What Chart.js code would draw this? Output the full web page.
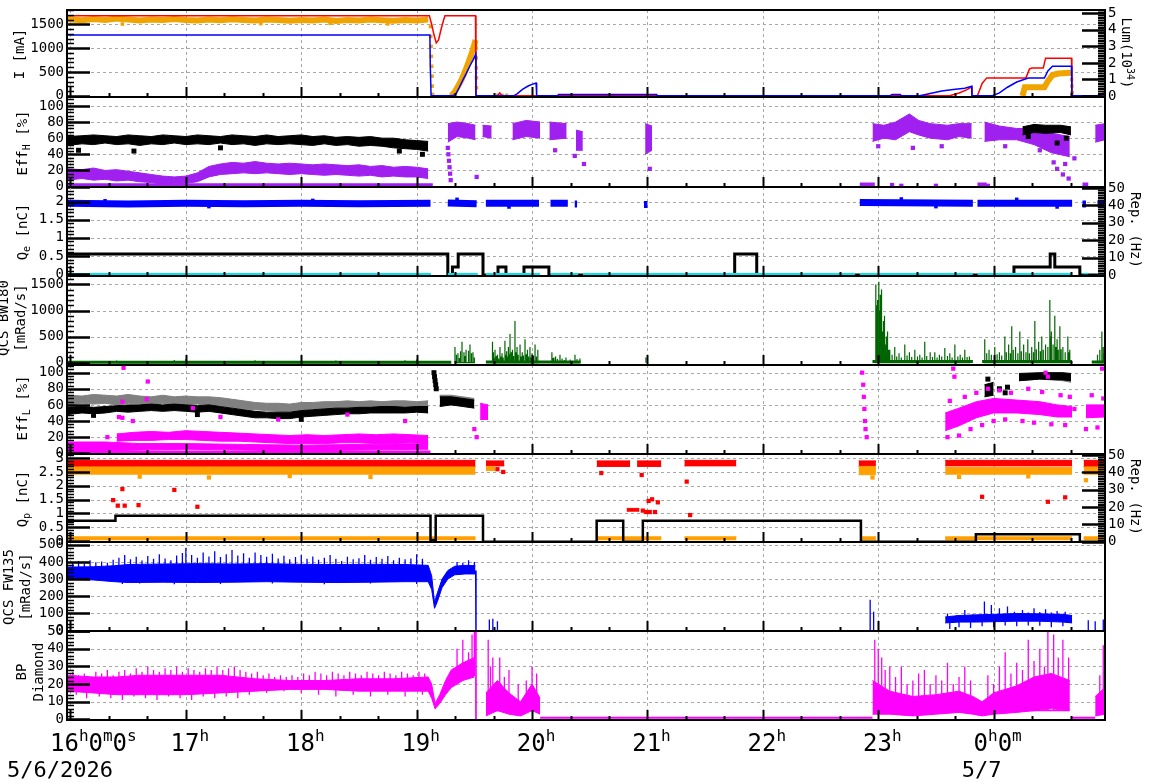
<!DOCTYPE html>
<html>
<head>
<meta charset="utf-8">
<script src="https://cdn.jsdelivr.net/npm/chart.js@4.4.0/dist/chart.umd.min.js"></script>
<style>
  body { margin: 0; background: #fff; }
  #wrap { position: relative; width: 1172px; height: 782px; overflow: hidden; background: #fff; }
  #wrap canvas { position: absolute; left: 0; }
  .ttl { position: absolute; font: 14px "DejaVu Sans Mono", monospace; color: #000; white-space: nowrap;
         text-align: center; line-height: 17px; transform-origin: center; }
  .ttl sub, .ttl sup { font-size: 10px; line-height: 0; }
</style>
</head>
<body>
<div id="wrap"></div>
<script>
// time axis in hours (24 = 0h of 5/7)
const xMin = 15.97, xMax = 24.965;
const hourTicks = [16, 17, 18, 19, 20, 21, 22, 23, 24];
const hourLabels = ['16^h0^m0^s', '17^h', '18^h', '19^h', '20^h', '21^h', '22^h', '23^h', '0^h0^m'];
const dateTicks = [16, 24];
const dateLabels = ['5/6/2026', '5/7'];

// ---- panel 1 : beam currents [mA] and luminosity [1e34]
const iLER = [[15.97,1680],[19.11,1680],[19.13,1500],[19.15,1280],[19.17,1110],[19.19,1170],[19.21,1380],[19.23,1560],[19.245,1680],[19.51,1680],[19.514,0],
  [19.7,0],[19.72,60],[19.74,0],[23.62,0],[23.7,60],[23.77,130],[23.81,190],[23.812,0],[23.86,0],[23.9,260],[23.94,376],[24.28,376],[24.31,560],[24.33,581],
  [24.43,581],[24.45,790],[24.675,790],[24.678,0],[24.9,0],[24.965,70]];
const iHER = [[15.97,1275],[19.115,1275],[19.118,640],[19.125,0],[19.31,0],[19.34,40],[19.37,180],[19.4,330],[19.43,470],[19.46,620],[19.49,760],[19.512,870],[19.514,0],
  [19.84,0],[19.87,40],[19.92,140],[19.97,210],[20.0,240],[20.035,270],[20.04,0],[20.22,0],[20.23,30],[21.08,30],[21.085,0],[23.1,0],[23.12,30],[23.19,30],[23.2,0],
  [23.36,0],[23.45,50],[23.55,100],[23.65,130],[23.75,160],[23.81,200],[23.812,0],[23.99,0],[24.05,60],[24.12,180],[24.2,290],[24.3,373],[24.44,373],[24.47,520],
  [24.51,622],[24.675,622],[24.678,0],[24.9,0],[24.965,40]];
const lumi = [[15.97,4.64],[16.1,4.58],[16.2,4.66],[16.3,4.6],[16.4,4.68],[16.5,4.62],[16.6,4.57],[16.7,4.63],[16.8,4.59],[16.9,4.66],[17.0,4.6],[17.1,4.56],
  [17.2,4.62],[17.3,4.58],[17.4,4.64],[17.5,4.6],[17.6,4.56],[17.7,4.63],[17.8,4.59],[17.9,4.55],[18.0,4.6],[18.1,4.57],[18.2,4.62],[18.3,4.54],[18.4,4.6],
  [18.5,4.57],[18.6,4.62],[18.7,4.58],[18.8,4.55],[18.9,4.6],[19.0,4.57],[19.1,4.62],[19.112,null],[19.3,0.0],[19.33,0.25],[19.36,0.6],[19.39,1.0],[19.42,1.5],
  [19.45,2.05],[19.48,2.65],[19.5,3.1],[19.51,3.39],[19.512,null],[24.25,0],[24.27,0.53],[24.44,0.53],[24.47,0.9],[24.51,1.27],[24.56,1.36],[24.67,1.41],[24.672,null]];
const lumDots = [[19.12,4.2],[19.122,3.6],[19.125,3.0],[19.127,2.4],[19.13,1.8],[19.133,1.2],[19.135,0.6],[19.138,0.1],[19.515,2.9],[19.516,2.3],[19.517,1.7],
  [19.518,1.1],[19.519,0.5],[24.676,1.0],[24.678,0.6],[24.68,0.2],[19.7,0.04],[19.74,0.04],[19.78,0.04],[16.45,4.35],[17.65,4.38],[18.25,4.4],[18.75,4.36]];

// ---- panel 2 : Eff_H [%]
const effHBlack = [[15.97,51,62],[16.1,53,63],[16.2,52,64],[16.3,54,63],[16.4,52,62],[16.5,53,64],[16.6,51,63],[16.7,53,62],[16.8,52,64],[16.9,54,63],[17.0,52,62],
  [17.1,53,64],[17.2,52,63],[17.3,54,62],[17.4,52,64],[17.5,53,63],[17.6,51,62],[17.7,53,64],[17.8,52,62],[17.9,53,63],[18.0,52,64],[18.1,51,62],[18.2,53,63],
  [18.3,51,61],[18.4,52,62],[18.5,50,61],[18.6,51,62],[18.7,50,60],[18.8,48,60],[18.9,47,58],[19.0,46,57],[19.1,44,56],[19.11,null,null],
  [24.25,64,74],[24.35,67,77],[24.45,66,76],[24.58,67,76],[24.67,64,74]];
const effHBlackDots = [[16.07,45],[16.55,44],[17.3,48],[18.85,44],[19.05,40],[24.55,54],[24.63,60],[24.3,62]];
const effHPurple = [[15.97,8,22],[16.1,10,21],[16.2,8,23],[16.3,9,20],[16.4,7,21],[16.5,8,19],[16.6,6,17],[16.7,5,15],[16.8,3,13],[16.9,4,12],[17.0,4,13],
  [17.1,6,17],[17.2,12,25],[17.3,15,28],[17.4,16,30],[17.5,17,29],[17.6,16,31],[17.7,17,29],[17.8,16,28],[17.9,15,29],[18.0,16,28],[18.1,15,27],[18.2,14,28],
  [18.3,15,27],[18.4,14,26],[18.5,13,27],[18.6,14,25],[18.7,12,26],[18.8,13,24],[18.9,12,25],[19.0,12,24],[19.1,10,22],[19.115,null,null],
  [19.27,55,78],[19.35,62,80],[19.45,60,78],[19.51,58,76],[19.512,null,null],[19.57,62,76],[19.65,60,75],[19.652,null,null],
  [19.83,58,78],[19.95,62,82],[20.07,60,80],[20.072,null,null],[20.15,58,80],[20.3,60,78],[20.302,null,null],[20.38,45,70],[20.44,45,68],[20.442,null,null],
  [20.98,40,78],[21.04,45,75],[21.042,null,null],[22.95,56,78],[23.05,60,76],[23.15,58,80],[23.27,68,90],[23.35,64,82],[23.45,60,78],[23.6,58,76],[23.7,62,78],
  [23.81,60,78],[23.812,null,null],[23.92,56,80],[24.05,58,75],[24.2,58,72],[24.35,52,72],[24.5,42,66],[24.66,37,62],[24.662,null,null],[24.88,55,76],[24.965,58,78]];
const effHPurpleZero = [[15.97,1],[19.14,1],[19.141,null],[22.84,2],[22.97,2],[22.971,null],[23.86,2],[23.94,2],[23.941,null],[24.77,2],[24.82,2]];
const effHPurpleDots = [[19.27,48],[19.275,40],[19.28,32],[19.285,24],[19.29,16],[19.295,8],[20.37,38],[20.45,28],[20.2,45],[21.02,22],[19.52,12],
  [24.55,22],[24.6,15],[24.62,28],[24.65,10],[24.7,35],[24.52,30],[23.12,2],[23.2,1],[23.5,1],[23.95,1],[23.0,50],[23.3,48],[23.55,50],[24.1,50],[24.4,45]];

// ---- panel 3 : Q_e [nC] and rep. rate [Hz]
const qe = [[15.97,1.95],[16.5,1.93],[17.0,1.95],[17.5,1.94],[18.0,1.95],[18.5,1.94],[19.12,1.95],[19.122,null],[19.27,1.96],[19.52,1.94],[19.522,null],
  [19.6,1.95],[20.06,1.95],[20.062,null],[20.16,1.95],[20.31,1.95],[20.312,null],[20.37,1.93],[20.39,1.93],[20.392,null],[20.97,1.92],[21.0,1.92],[21.002,null],
  [22.84,1.97],[23.82,1.95],[23.822,null],[23.86,1.95],[24.68,1.95],[24.682,null],[24.77,1.93],[24.8,1.93],[24.802,null],[24.9,1.93],[24.965,1.94]];
const qeDots = [[16.3,2.02],[17.2,1.86],[18.1,2.03],[19.35,2.06],[19.8,1.85],[23.2,2.07],[23.5,1.86],[24.2,2.06],[24.55,1.85]];
const repE = [[15.97,12],[19.27,12],[19.27,0],[19.31,0],[19.31,4.6],[19.36,4.6],[19.36,12],[19.575,12],[19.575,0],[19.705,0],[19.705,4.6],[19.774,4.6],[19.774,0],
  [19.93,0],[19.93,4.6],[20.146,4.6],[20.146,0],[21.756,0],[21.756,12],[21.947,12],[21.947,0],[24.176,0],[24.176,4.6],[24.49,4.6],[24.49,12],[24.53,12],
  [24.53,4.6],[24.747,4.6],[24.747,0],[24.965,0]];
const cyanE = [[15.97,0],[19.125,0],[19.126,null],[19.27,0],[19.53,0],[19.531,null],[19.6,0],[20.07,0],[20.071,null],[20.16,0],[20.4,0],[20.401,null],
  [20.44,0],[22.8,0],[22.801,null],[22.84,0],[23.82,0],[23.821,null],[23.86,0],[24.68,0],[24.681,null],[24.77,0],[24.82,0],[24.821,null],[24.9,0],[24.965,0]];

// ---- panel 4 : QCS BW180 [mRad/s]
const bw180Base = [[15.97,10],[19.3,10],[19.301,null],[19.6,15],[20.42,15],[20.421,null],[22.95,25],[23.82,25],[23.821,null],[23.9,25],[24.68,25],[24.681,null],[24.85,15],[24.965,15]];
const bw180Spikes = [[16.4,40],[16.9,50],[17.0,70],[17.6,45],[18.3,40],[18.9,45],[19.0,60],[19.01,null],
  [19.332,300],[19.345,150],[19.358,180],[19.37,90],[19.38,220],[19.393,400],[19.41,200],[19.42,130],[19.428,250],[19.445,120],[19.452,230],[19.462,350],[19.475,180],
  [19.488,200],[19.5,100],[19.51,null],
  [19.653,400],[19.66,120],[19.665,200],[19.672,90],[19.679,250],[19.69,130],[19.7,150],[19.71,80],[19.722,300],[19.73,120],[19.74,180],[19.75,100],[19.765,420],
  [19.772,150],[19.78,220],[19.787,120],[19.795,300],[19.802,160],[19.809,550],[19.82,200],[19.83,250],[19.84,130],[19.852,800],[19.86,200],[19.87,300],[19.88,150],
  [19.896,350],[19.905,120],[19.915,200],[19.925,140],[19.939,450],[19.95,160],[19.96,250],[19.97,120],[19.982,300],[19.99,100],[20.0,180],[20.012,130],[20.026,350],
  [20.038,120],[20.05,250],[20.06,null],
  [20.172,200],[20.18,90],[20.19,100],[20.2,60],[20.207,120],[20.22,70],[20.242,150],[20.26,80],[20.28,50],[20.294,100],[20.33,60],[20.372,150],[20.39,70],[20.415,80],
  [20.42,null],[20.987,100],[20.99,null],
  [22.979,1500],[22.985,1100],[22.99,1200],[22.997,900],[23.005,1550],[23.012,1000],[23.018,1300],[23.025,700],[23.031,1400],[23.038,600],[23.045,800],[23.05,400],
  [23.057,900],[23.063,350],[23.07,500],[23.077,300],[23.083,600],[23.09,250],[23.1,250],[23.12,150],
  [23.143,300],[23.16,120],[23.18,180],[23.2,100],[23.23,350],[23.25,140],[23.27,200],[23.29,110],[23.317,250],[23.34,120],[23.36,150],[23.38,100],[23.403,400],
  [23.42,130],[23.45,200],[23.47,110],[23.49,200],[23.51,100],[23.53,150],[23.55,120],[23.577,280],[23.6,130],[23.62,180],[23.64,100],[23.664,350],[23.69,120],
  [23.71,150],[23.73,100],[23.75,250],[23.77,110],[23.79,120],[23.8,null],
  [23.923,450],[23.94,180],[23.96,250],[23.98,150],[24.01,300],[24.03,160],[24.05,200],[24.07,140],[24.097,500],[24.11,200],[24.13,350],[24.145,180],[24.157,700],
  [24.17,250],[24.19,300],[24.21,180],[24.227,600],[24.24,220],[24.26,350],[24.28,200],[24.296,450],[24.31,180],[24.33,300],[24.345,200],[24.357,800],[24.37,260],
  [24.39,400],[24.405,220],[24.417,500],[24.43,250],[24.45,350],[24.47,300],[24.487,1200],[24.495,500],[24.5,600],[24.515,350],[24.53,900],[24.54,300],[24.55,450],
  [24.56,250],[24.574,700],[24.585,260],[24.6,300],[24.62,200],[24.643,500],[24.65,200],[24.66,250],[24.67,null],
  [24.9,150],[24.92,250],[24.938,600],[24.95,300],[24.96,180]];

// ---- panel 5 : Eff_L [%]
const effLGray = [[15.97,60,72],[16.1,62,71],[16.2,61,73],[16.3,62,72],[16.4,60,71],[16.5,62,73],[16.6,61,71],[16.7,60,70],[16.8,62,72],[16.9,60,70],[17.0,60,71],
  [17.1,61,70],[17.2,59,70],[17.3,59,69],[17.4,57,67],[17.5,55,65],[17.6,54,63],[17.7,53,62],[17.8,52,62],[17.9,52,61],[18.0,54,63],[18.1,55,63],[18.2,55,64],
  [18.3,56,64],[18.4,55,65],[18.5,56,64],[18.6,57,65],[18.7,56,64],[18.8,56,65],[18.9,57,65],[19.0,56,64],[19.1,56,65],
  [19.11,null,null],[19.2,60,72],[19.3,62,72],[19.4,60,70],[19.5,58,68],[19.51,null,null],[24.22,90,98],[24.4,92,99],[24.6,90,99],[24.67,88,97]];
const effLBlack = [[15.97,48,57],[16.1,50,58],[16.2,49,57],[16.3,50,58],[16.4,52,59],[16.5,51,60],[16.6,52,60],[16.7,53,61],[16.8,52,60],[16.9,53,61],[17.0,52,60],
  [17.1,51,59],[17.2,52,60],[17.3,50,58],[17.4,48,56],[17.5,46,54],[17.6,44,52],[17.7,44,51],[17.8,43,51],[17.9,43,51],[18.0,45,53],[18.1,46,54],[18.2,47,55],
  [18.3,48,56],[18.4,49,56],[18.5,49,57],[18.6,50,57],[18.7,50,58],[18.8,50,58],[18.9,50,57],[19.0,51,58],[19.1,50,58],
  [19.11,null,null],[19.2,58,70],[19.3,60,70],[19.4,58,68],[19.5,56,66],[19.51,null,null],[23.92,70,85],[24.0,72,88],[24.02,null,null],[24.22,90,99],[24.4,92,100],
  [24.6,91,100],[24.67,90,99]];
const effLBlackDots = [[19.15,100],[19.155,95],[19.16,90],[19.165,85],[19.17,80],[24.05,80],[24.1,75],[23.95,92],[24.12,82],[16.2,47],[17.1,48],[18.0,42]];
const effLMagUpper = [[16.4,15,24],[16.55,16,26],[16.7,16,27],[16.85,17,26],[17.0,17,28],[17.15,16,27],[17.3,15,26],[17.45,15,25],[17.6,14,24],[17.75,13,23],
  [17.9,12,22],[18.05,12,23],[18.2,12,22],[18.35,13,23],[18.5,13,24],[18.65,12,23],[18.8,12,24],[18.95,13,23],[19.1,12,22]];
const effLMagLower = [[15.97,2,14],[16.3,3,14],[16.6,4,12],[17.0,5,12],[17.5,4,11],[18.0,3,10],[18.5,4,11],[19.1,5,12]];
const effLMagLate = [[19.55,42,62],[19.62,42,60],[19.63,null,null],[23.58,28,50],[23.7,34,56],[23.85,44,64],[24.0,50,68],[24.2,50,66],[24.4,48,64],[24.55,45,60],
  [24.68,45,58],[24.69,null,null],[24.8,44,60],[24.965,45,60]];
const effLMagZero = [[15.97,1],[19.12,1]];
const effLMagDots = [[16.46,106],[16.67,89],[16.66,67],[16.45,64],[16.42,45],[16.45,44],[16.54,40],[16.32,20],[17.06,56],[17.3,45],[17.8,42],[18.4,48],[18.9,40],
  [19.5,30],[19.52,20],[22.86,100],[22.87,85],[22.875,70],[22.88,55],[22.885,40],[22.89,30],[22.9,20],[23.65,105],[23.66,95],[24.45,100],[24.47,95],[24.94,105],
  [24.7,55],[23.6,20],[23.62,65],[23.7,22],[23.75,70],[23.8,30],[23.85,75],[23.9,35],[23.95,80],[24.0,40],[24.05,78],[24.1,42],[24.15,75],[24.25,40],[24.3,80],
  [24.35,38],[24.42,76],[24.5,36],[24.58,72],[24.62,35],[24.66,70],[24.8,30],[24.85,72],[24.9,32],[24.95,68]];

// ---- panel 6 : Q_p [nC] and rep. rate [Hz]
const qpRed = [[15.97,2.7,2.92],[19.51,2.7,2.92],[19.511,null,null],[19.6,2.72,2.9],[19.76,2.72,2.9],[19.761,null,null],[20.56,2.7,2.9],[20.85,2.7,2.9],[20.851,null,null],
  [20.91,2.7,2.9],[21.12,2.7,2.9],[21.121,null,null],[21.32,2.72,2.92],[21.77,2.72,2.92],[21.771,null,null],[22.83,2.7,2.9],[22.98,2.7,2.9],[22.981,null,null],
  [23.58,2.72,2.92],[24.68,2.72,2.92],[24.681,null,null],[24.78,2.7,2.92],[24.965,2.7,2.92]];
const qpRedLow = [[20.82,1.08,1.18],[20.93,1.08,1.18]];
const qpOrange = [[15.97,2.42,2.68],[19.51,2.42,2.68],[19.511,null,null],[19.6,2.55,2.7],[19.68,2.55,2.7],[19.681,null,null],[22.83,2.4,2.7],[22.98,2.4,2.7],
  [22.981,null,null],[23.58,2.42,2.66],[24.68,2.42,2.66],[24.681,null,null],[24.78,2.42,2.68],[24.965,2.42,2.68]];
const qpOrangeDots = [[16.6,2.33],[17.2,2.3],[17.9,2.35],[18.6,2.32],[22.95,2.3],[23.7,2.32],[24.3,2.34],[24.8,2.2]];
const qpRedDots = [[16.37,1.48],[16.41,1.28],[16.47,1.28],[16.59,1.3],[16.45,1.88],[16.9,1.85],[17.1,1.24],[20.6,2.46],[20.95,2.39],[21.34,2.15],[21.37,0.94],
  [20.96,1.1],[20.99,1.05],[21.01,1.45],[21.02,1.05],[21.04,1.51],[21.065,1.05],[21.09,1.4],[24.47,1.42],[24.62,1.58],[23.9,1.6],[19.7,2.6],[19.75,2.5]];
const qpOrangeLow = [[15.97,0.1],[19.51,0.1],[19.511,null],[20.56,0.1],[21.12,0.1],[21.121,null],[21.32,0.1],[21.77,0.1],[21.771,null],[22.86,0.1],[22.98,0.1],
  [22.981,null],[23.58,0.1],[24.68,0.1],[24.681,null],[24.78,0.1],[24.965,0.1]];
const repP = [[15.97,12],[16.39,12],[16.39,15],[19.12,15],[19.12,1],[19.165,1],[19.165,15],[19.575,15],[19.575,0],[20.56,0],[20.56,12],[20.79,12],[20.79,0],
  [20.96,0],[20.96,12],[22.85,12],[22.85,0],[23.846,0],[23.846,4.3],[24.747,4.3],[24.747,0],[24.965,0]];

// ---- panel 7 : QCS FW135 [mRad/s]
const fwBand = [[15.97,300,370],[16.2,295,372],[16.38,285,378],[16.5,280,385],[16.8,282,388],[17.1,280,390],[17.4,282,388],[17.7,285,390],[18.0,282,386],
  [18.3,280,385],[18.6,282,386],[18.9,285,385],[19.1,285,380],[19.13,240,320],[19.155,130,165],[19.18,170,220],[19.22,250,300],[19.27,300,350],[19.33,325,375],
  [19.42,330,380],[19.51,330,378],[19.511,null,null],[23.58,45,80],[23.7,50,88],[23.85,50,92],[24.0,52,95],[24.2,55,100],[24.4,55,98],[24.6,50,95],[24.68,45,88]];
const fwSpikes = [[16.02,395,330],[16.07,405,330],[16.12,390,330],[16.17,410,330],[16.22,398,330],[16.27,402,330],[16.32,395,330],[16.37,412,330],[16.42,425,330],
  [16.47,440,330],[16.52,415,330],[16.57,430,330],[16.62,408,330],[16.67,435,330],[16.72,418,330],[16.77,445,330],[16.82,420,330],[16.87,410,330],[16.92,438,330],
  [16.97,452,330],[17.0,482,330],[17.05,440,330],[17.1,425,330],[17.15,455,330],[17.2,432,330],[17.25,462,330],[17.3,428,330],[17.35,445,330],[17.4,470,330],
  [17.45,438,330],[17.5,450,330],[17.55,425,330],[17.6,455,330],[17.65,440,330],[17.7,430,330],[17.75,448,330],[17.8,420,330],[17.85,436,330],[17.9,415,330],
  [17.95,428,330],[18.0,440,330],[18.05,418,330],[18.1,432,330],[18.15,412,330],[18.2,425,330],[18.25,440,330],[18.3,418,330],[18.35,405,330],[18.4,430,330],
  [18.45,415,330],[18.5,422,330],[18.55,440,330],[18.6,412,330],[18.65,428,330],[18.7,418,330],[18.75,435,330],[18.8,410,330],[18.85,425,330],[18.9,415,330],
  [18.95,420,330],[19.0,445,330],[19.05,418,330],[19.06,null],
  [16.45,272,330],[16.6,275,330],[16.9,270,330],[17.3,272,330],[17.75,275,330],[18.2,270,330],[18.6,274,330],[19.0,272,330],[19.01,null],
  [19.35,400,350],[19.4,395,350],[19.45,410,350],[19.5,400,350],[19.501,null],
  [19.63,65,0],[19.66,70,0],[19.7,55,0],[19.71,null],[22.93,180,0],[22.96,110,0],[22.97,null],
  [23.6,100,60],[23.68,90,60],[23.75,120,60],[23.82,95,60],[23.92,170,60],[23.98,150,60],[24.05,130,60],[24.12,140,60],[24.18,110,60],[24.25,120,60],[24.3,105,60],
  [24.35,130,60],[24.4,108,60],[24.45,125,60],[24.5,105,60],[24.55,115,60],[24.62,110,60],[24.63,null],
  [23.62,10,60],[23.7,20,60],[23.8,15,60],[23.9,25,60],[24.0,20,60],[24.1,30,60],[24.2,25,60],[24.3,30,60],[24.4,28,60],[24.5,20,60],[24.6,25,60],[24.61,null],
  [24.82,60,0],[24.88,55,0],[24.95,65,0]];
const fwDrop = [[19.512,350],[19.514,0]];

// ---- panel 8 : BP Diamond
const dmBand = [[15.97,16,25],[16.2,15,24],[16.4,14,24],[16.6,14,25],[16.8,14,25],[17.0,14,25],[17.3,15,25],[17.6,16,23],[17.9,17,22],[18.2,17,22],[18.5,16,23],
  [18.8,16,23],[19.1,16,24],[19.13,12,20],[19.16,6,9],[19.2,9,14],[19.25,14,22],[19.3,18,28],[19.4,22,32],[19.5,24,35],[19.511,null,null],[19.6,2,15],[19.7,5,22],
  [19.8,3,15],[19.9,2,10],[20.0,5,20],[20.07,3,12],[20.071,null,null],[22.95,3,22],[23.1,3,16],[23.3,2,13],[23.5,3,14],[23.7,4,16],[23.82,3,13],[23.9,2,10],
  [24.0,3,15],[24.2,4,19],[24.35,5,24],[24.5,6,26],[24.66,5,22],[24.67,null,null],[24.88,2,13],[24.965,3,18]];
const dmSpikes = [[16.02,27,20],[16.07,25,20],[16.12,26,20],[16.17,24,20],[16.22,27,20],[16.27,26,20],[16.32,28,20],[16.37,25,20],[16.42,27,20],[16.47,28,20],
  [16.52,26,20],[16.57,29,20],[16.62,27,20],[16.67,30,20],[16.72,28,20],[16.77,27,20],[16.82,29,20],[16.87,28,20],[16.92,30,20],[16.97,27,20],[17.02,29,20],
  [17.07,28,20],[17.12,27,20],[17.17,29,20],[17.22,28,20],[17.27,30,20],[17.32,28,20],[17.37,29,20],[17.42,30,20],[17.47,28,20],[17.52,27,20],[17.57,26,20],
  [17.62,27,20],[17.67,25,20],[17.72,26,20],[17.77,24,20],[17.82,25,20],[17.87,24,20],[17.92,25,20],[17.97,24,20],[18.02,26,20],[18.07,25,20],[18.12,27,20],
  [18.17,26,20],[18.22,25,20],[18.27,27,20],[18.32,26,20],[18.37,25,20],[18.42,27,20],[18.47,26,20],[18.52,25,20],[18.57,27,20],[18.62,26,20],[18.67,25,20],
  [18.72,27,20],[18.77,26,20],[18.82,25,20],[18.87,27,20],[18.92,26,20],[18.97,25,20],[19.02,27,20],[19.07,26,20],[19.08,null],
  [16.05,14,20],[16.14,12,20],[16.25,13,20],[16.35,12,20],[16.45,11,20],[16.55,13,20],[16.65,12,20],[16.75,11,20],[16.85,13,20],[16.95,12,20],[17.05,11,20],
  [17.15,13,20],[17.25,12,20],[17.35,13,20],[17.45,12,20],[17.55,14,20],[17.7,15,20],[17.85,16,20],[18.0,15,20],[18.15,14,20],[18.3,13,20],[18.45,14,20],
  [18.6,13,20],[18.75,14,20],[18.9,13,20],[19.05,14,20],[19.06,null],
  [19.35,40,25],[19.4,45,25],[19.45,38,25],[19.48,48,25],[19.5,50,25],[19.501,null],
  [19.62,45,5],[19.64,30,5],[19.66,35,5],[19.72,35,5],[19.76,24,5],[19.8,28,5],[19.88,20,5],[19.95,22,5],[20.0,30,5],[20.04,26,5],[20.041,null],
  [22.97,45,5],[23.0,40,5],[23.03,35,5],[23.06,28,5],[23.1,30,5],[23.15,24,5],[23.2,30,5],[23.25,20,5],[23.3,22,5],[23.35,26,5],[23.4,28,5],[23.45,20,5],
  [23.5,25,5],[23.55,22,5],[23.6,32,5],[23.65,20,5],[23.7,24,5],[23.75,30,5],[23.8,22,5],[23.95,25,5],[24.0,20,5],[24.05,30,5],[24.1,38,5],[24.15,26,5],
  [24.2,32,5],[24.25,28,5],[24.3,45,5],[24.35,33,5],[24.4,40,5],[24.44,30,5],[24.47,50,5],[24.52,48,5],[24.56,35,5],[24.6,45,5],[24.65,35,5],[24.651,null],
  [24.92,25,5],[24.95,42,5]];
const dmLow = [[20.07,1],[22.95,1],[22.951,null],[24.67,1],[24.88,1]];
const dmDrop = [[19.512,50],[19.514,0]];

// ---------------------------------------------------------------
const FONT = '"DejaVu Sans Mono", monospace';
const C = { red: '#ff0000', blue: '#0000ff', orange: '#f0a400', orange2: '#ffa000', purple: '#a020f0', black: '#000000', gray: '#808080',
            magenta: '#ff00ff', green: '#006400', cyan: '#00e5ee' };

function line(arr, color, width, axis) {
  return { type: 'line', data: arr.map(p => ({ x: p[0], y: p[1] })), borderColor: color, borderWidth: width, pointRadius: 0,
           fill: false, spanGaps: false, yAxisID: axis || 'y' };
}
function dots(arr, color, axis, r) {
  return { type: 'scatter', data: arr.map(p => ({ x: p[0], y: p[1] })), pointStyle: 'rect', pointRadius: r || 3, borderWidth: 0,
           backgroundColor: color, showLine: false, yAxisID: axis || 'y' };
}
function band(arr, color, axis) {
  const segs = []; let cur = [];
  arr.forEach(p => { if (p[1] === null) { if (cur.length) segs.push(cur); cur = []; } else cur.push(p); });
  if (cur.length) segs.push(cur);
  const out = [];
  segs.forEach(s => {
    out.push({ type: 'line', data: s.map(p => ({ x: p[0], y: p[1] })), borderColor: color, borderWidth: 1, pointRadius: 0, fill: false, yAxisID: axis || 'y' });
    out.push({ type: 'line', data: s.map(p => ({ x: p[0], y: p[2] })), borderColor: color, borderWidth: 1, pointRadius: 0, fill: '-1',
               backgroundColor: color, yAxisID: axis || 'y' });
  });
  return out;
}
function spikes(arr, color, width, axis) {
  const d = [];
  arr.forEach(p => {
    if (p[1] === null) { d.push({ x: p[0], y: null }); return; }
    const b = p.length > 2 ? p[2] : 0;
    d.push({ x: p[0], y: b }, { x: p[0], y: p[1] }, { x: p[0], y: b });
  });
  return { type: 'line', data: d, borderColor: color, borderWidth: width, pointRadius: 0, fill: false, spanGaps: false, yAxisID: axis || 'y' };
}

const panelTops = [10, 97, 187, 276, 365, 454, 542, 631, 720];

const panels = [
  { left: { min: -25, max: 1800, ticks: [0, 500, 1000, 1500], minor: 5 }, right: { min: -0.06, max: 5.2, ticks: [0, 1, 2, 3, 4, 5], minor: 10 },
    sets: () => [line(lumi, C.orange, 6, 'y2'), dots(lumDots, C.orange, 'y2', 2.5), line(iLER, C.red, 1.5), line(iHER, C.blue, 1.5)] },
  { left: { min: -0.5, max: 111, ticks: [0, 20, 40, 60, 80, 100], minor: 5 },
    sets: () => [line(effHPurpleZero, C.purple, 5), ...band(effHPurple, C.purple), dots(effHPurpleDots, C.purple), ...band(effHBlack, C.black), dots(effHBlackDots, C.black, 'y', 3.5)] },
  { left: { min: -0.05, max: 2.4, ticks: [0, 0.5, 1, 1.5, 2], minor: 5 }, right: { min: -0.6, max: 50.6, ticks: [0, 10, 20, 30, 40, 50], minor: 10 },
    sets: () => [line(repE, C.black, 3, 'y2'), line(cyanE, C.cyan, 4, 'y2'), line(qe, C.blue, 7), dots(qeDots, C.blue, 'y', 2.5)] },
  { left: { min: -44, max: 1661, ticks: [0, 500, 1000, 1500], minor: 5 },
    sets: () => [line(bw180Base, C.green, 3), spikes(bw180Spikes, C.green, 1.2)] },
  { left: { min: -0.9, max: 109.5, ticks: [0, 20, 40, 60, 80, 100], minor: 5 },
    sets: () => [line(effLMagZero, C.magenta, 4), ...band(effLMagLower, C.magenta), ...band(effLMagUpper, C.magenta), ...band(effLMagLate, C.magenta),
                 ...band(effLGray, C.gray), ...band(effLBlack, C.black), dots(effLBlackDots, C.black, 'y', 3.5), dots(effLMagDots, C.magenta)] },
  { left: { min: -0.036, max: 3.15, ticks: [0, 0.5, 1, 1.5, 2, 2.5, 3], minor: 5 }, right: { min: -0.2, max: 50.6, ticks: [0, 10, 20, 30, 40, 50], minor: 10 },
    sets: () => [...band(qpRed, C.red), ...band(qpRedLow, C.red), ...band(qpOrange, C.orange2), dots(qpOrangeDots, C.orange2), dots(qpRedDots, C.red),
                 line(qpOrangeLow, C.orange2, 4), line(repP, C.black, 2.5, 'y2')] },
  { left: { min: -2, max: 516, ticks: [0, 100, 200, 300, 400, 500], minor: 5 },
    sets: () => [...band(fwBand, C.blue), spikes(fwSpikes, C.blue, 1.3), line(fwDrop, C.blue, 1.5)] },
  { left: { min: -0.3, max: 50, ticks: [0, 10, 20, 30, 40, 50], minor: 5 },
    sets: () => [...band(dmBand, C.magenta), spikes(dmSpikes, C.magenta, 1.3), line(dmLow, C.magenta, 2), line(dmDrop, C.magenta, 1)] }
];

const titles = [
  ['I [mA]', 19, 54, -90], ['Eff<sub>H</sub> [%]', 22, 143, -90], ['Q<sub>e</sub> [nC]', 22, 232, -90],
  ['QCS BW180<br>[mRad/s]', 12, 318, -90], ['Eff<sub>L</sub> [%]', 22, 408, -90], ['Q<sub>p</sub> [nC]', 22, 499, -90],
  ['QCS FW135<br>[mRad/s]', 17, 587, -90], ['BP<br>Diamond', 30, 672, -90],
  ['Lum(10<sup>34</sup>)', 1126, 53, 90], ['Rep. (Hz)', 1135, 230, 90], ['Rep. (Hz)', 1135, 497, 90]
];

const wrap = document.getElementById('wrap');

function yScale(ax, pos) {
  return {
    type: 'linear', position: pos, min: ax.min, max: ax.max,
    afterBuildTicks: s => { s.ticks = ax.ticks.map(v => ({ value: v })); },
    afterFit: s => { s.width = 67; },
    ticks: { autoSkip: false, padding: 3, color: '#000', font: { family: FONT, size: 14 }, callback: v => String(v) },
    grid: { display: false, drawTicks: false }, border: { display: false }
  };
}

function richParts(text) {
  const parts = [];
  for (let i = 0; i < text.length; i++) {
    if (text[i] === '^') { parts.push([text[i + 1], true]); i++; } else parts.push([text[i], false]);
  }
  return parts;
}
function drawRich(ctx, text, x, y, center) {
  const parts = richParts(text);
  const big = '24px ' + FONT, small = '16px ' + FONT;
  let w = 0;
  parts.forEach(p => { ctx.font = p[1] ? small : big; w += ctx.measureText(p[0]).width; });
  let cx = center ? x - w / 2 : x;
  parts.forEach(p => {
    ctx.font = p[1] ? small : big;
    ctx.fillText(p[0], cx, p[1] ? y - 10 : y);
    cx += ctx.measureText(p[0]).width;
  });
}

function makePanel(p, idx) {
  const top = panelTops[idx], bottom = panelTops[idx + 1];
  const last = idx === panels.length - 1;
  const padT = 12, padB = last ? 782 - bottom : 12;
  const c = document.createElement('canvas');
  c.width = 1172; c.height = bottom - top + padT + padB;
  c.style.top = (top - padT) + 'px';
  wrap.appendChild(c);

  const scales = {
    x: { type: 'linear', min: xMin, max: xMax, ticks: { display: false }, grid: { display: false, drawTicks: false },
         border: { display: false }, afterFit: s => { s.height = 0; } },
    y: yScale(p.left, 'left')
  };
  if (p.right) scales.y2 = yScale(p.right, 'right');

  const ds = p.sets();
  ds.forEach((d, i) => { d.order = -i; });

  const deco = {
    id: 'deco' + idx,
    beforeDatasetsDraw(chart) {
      const { ctx, chartArea: a } = chart, xs = chart.scales.x, ys = chart.scales.y;
      ctx.save();
      ctx.strokeStyle = '#a8a8a8'; ctx.lineWidth = 1; ctx.setLineDash([3, 3]);
      ctx.beginPath();
      hourTicks.forEach(h => { const px = Math.round(xs.getPixelForValue(h)) + 0.5; ctx.moveTo(px, a.top); ctx.lineTo(px, a.bottom); });
      p.left.ticks.forEach(v => {
        const py = Math.round(ys.getPixelForValue(v)) + 0.5;
        if (py > a.top + 2 && py < a.bottom - 2) { ctx.moveTo(a.left, py); ctx.lineTo(a.right, py); }
      });
      ctx.stroke();
      ctx.restore();
    },
    afterDatasetsDraw(chart) {
      const { ctx, chartArea: a } = chart, xs = chart.scales.x;
      ctx.save();
      ctx.strokeStyle = '#000';
      const axisTicks = (ax, scale, x0, dir) => {
        const step = ax.ticks[1] - ax.ticks[0], ms = step / ax.minor;
        ctx.lineWidth = 1.5; ctx.beginPath();
        for (let k = Math.ceil(ax.min / ms); k * ms <= ax.max; k++) {
          const v = k * ms;
          if (Math.abs(v / step - Math.round(v / step)) < 1e-6) continue;
          const py = Math.round(scale.getPixelForValue(v)) + 0.5;
          ctx.moveTo(x0, py); ctx.lineTo(x0 + dir * 7, py);
        }
        ctx.stroke();
        ctx.lineWidth = 2.5; ctx.beginPath();
        ax.ticks.forEach(v => { const py = Math.round(scale.getPixelForValue(v)) + 0.5; ctx.moveTo(x0, py); ctx.lineTo(x0 + dir * 23, py); });
        ctx.stroke();
      };
      axisTicks(p.left, chart.scales.y, a.left, 1);
      if (p.right) axisTicks(p.right, chart.scales.y2, a.right, -1);
      // bottom time ticks
      ctx.lineWidth = 2; ctx.beginPath();
      for (let m = 16 * 60; m <= 25 * 60; m += 20) {
        const h = m / 60;
        if (h < xMin || h > xMax) continue;
        const px = Math.round(xs.getPixelForValue(h)) + 0.5;
        ctx.moveTo(px, a.bottom); ctx.lineTo(px, a.bottom - (m % 60 === 0 ? 10 : 4));
      }
      ctx.stroke();
      ctx.lineWidth = 2;
      ctx.strokeRect(a.left, a.top, a.right - a.left, a.bottom - a.top);
      ctx.restore();
    },
    afterDraw(chart) {
      if (!last) return;
      const { ctx, chartArea: a } = chart, xs = chart.scales.x;
      ctx.save();
      ctx.fillStyle = '#000'; ctx.textBaseline = 'alphabetic';
      hourTicks.forEach((h, i) => {
        if (i === 0) drawRich(ctx, hourLabels[i], 50, a.bottom + 31, false);
        else drawRich(ctx, hourLabels[i], xs.getPixelForValue(h) + 4, a.bottom + 31, true);
      });
      ctx.font = '22px ' + FONT;
      dateTicks.forEach((h, i) => {
        const w = ctx.measureText(dateLabels[i]).width;
        const x = i === 0 ? 7 : xs.getPixelForValue(h) - 12 - w / 2;
        ctx.fillText(dateLabels[i], x, a.bottom + 57);
      });
      ctx.restore();
    }
  };

  new Chart(c, {
    type: 'line',
    data: { datasets: ds },
    options: {
      responsive: false, animation: false, events: [],
      layout: { padding: { top: padT, bottom: padB, left: 0, right: p.right ? 0 : 67 } },
      plugins: { legend: { display: false }, tooltip: { enabled: false } },
      scales: scales
    },
    plugins: [deco]
  });
}

panels.forEach(makePanel);

titles.forEach(t => {
  const d = document.createElement('div');
  d.className = 'ttl';
  d.innerHTML = t[0];
  d.style.left = t[1] + 'px';
  d.style.top = t[2] + 'px';
  d.style.transform = 'translate(-50%, -50%) rotate(' + t[3] + 'deg)';
  wrap.appendChild(d);
});
</script>
</body>
</html>
